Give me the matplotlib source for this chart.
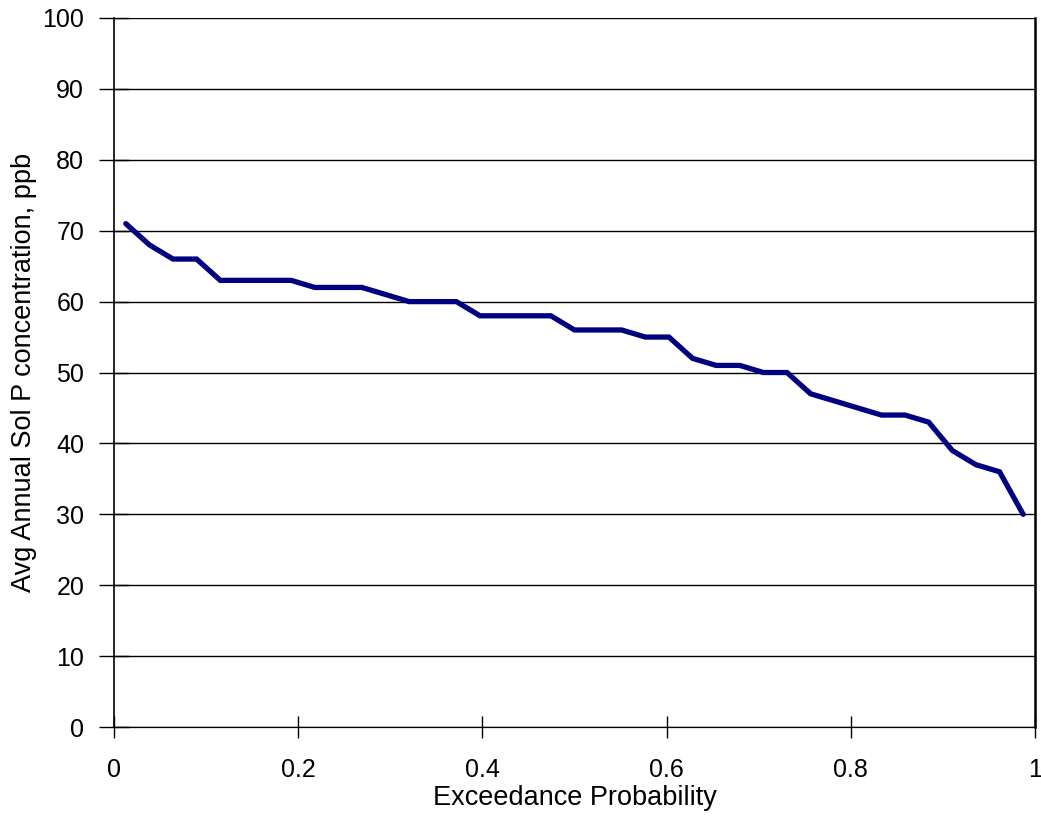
import numpy as np
import matplotlib
matplotlib.use("Agg")
import matplotlib.pyplot as plt

# avg annual sol P concentration (ppb), sorted descending
conc = [71, 68, 66, 66, 63, 63, 63, 63, 62, 62, 62, 61, 60, 60, 60,
        58, 58, 58, 58, 56, 56, 56, 55, 55, 52, 51, 51, 50, 50, 47,
        46, 45, 44, 44, 43, 39, 37, 36, 30]
n = len(conc)
# plotting position (i - 0.5) / n
exceed = [(i - 0.5) / n for i in range(1, n + 1)]

x_ticks = [0, 0.2, 0.4, 0.6, 0.8, 1]
x_ticklabels = ["0", "0.2", "0.4", "0.6", "0.8", "1"]
y_ticks = list(range(0, 101, 10))

plt.rcParams['font.family'] = ['Liberation Sans', 'DejaVu Sans']

fig = plt.figure(figsize=(10.41, 8.18), dpi=100)
ax = fig.add_axes([0.1095, 0.1112, 0.8847, 0.8668])

ax.plot(exceed, conc, color='#000080', lw=3.8, solid_joinstyle='miter',
        solid_capstyle='round', zorder=3)

ax.set_xlim(0, 1)
ax.set_ylim(0, 100)
ax.set_xticks(x_ticks)
ax.set_xticklabels(x_ticklabels)
ax.set_yticks(y_ticks)

ax.yaxis.grid(True, color='black', lw=1.0)
ax.set_axisbelow(True)

ax.spines['top'].set_visible(False)
ax.spines['left'].set_linewidth(1.2)
ax.spines['bottom'].set_linewidth(0.9)
ax.spines['right'].set_linewidth(1.8)

ax.tick_params(axis='x', direction='inout', length=16.5, width=1.0,
               labelsize=18, pad=14)
ax.tick_params(axis='y', direction='inout', length=21, width=1.0,
               labelsize=18, pad=11)

ax.set_xlabel("Exceedance Probability", fontsize=19.5, labelpad=2)
ax.set_ylabel("Avg Annual Sol P concentration, ppb", fontsize=19.5, labelpad=4)

plt.savefig("out.png", dpi=100)
